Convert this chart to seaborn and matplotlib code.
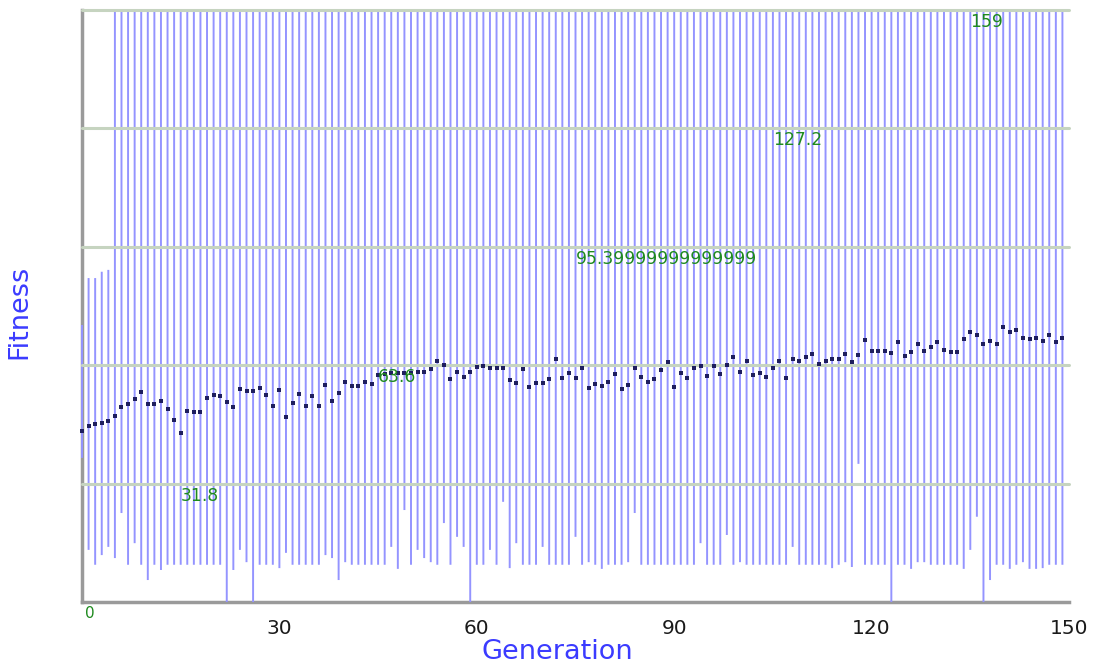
import numpy as np
import pandas as pd
import matplotlib
matplotlib.use("Agg")
import matplotlib.pyplot as plt
import matplotlib.transforms as mtransforms
import seaborn as sns

# Per-generation fitness statistics: population mean, minimum and maximum
generation = list(range(150))

mean_fitness = [
    45.8, 47.4, 47.7, 48.2, 48.7, 50.0, 52.5, 53.2, 54.4, 56.3,
    53.2, 53.2, 54.1, 51.8, 49.0, 45.3, 51.3, 51.0, 50.9, 54.8,
    55.6, 55.3, 53.8, 52.5, 57.2, 56.7, 56.7, 57.4, 55.6, 52.7,
    56.9, 49.6, 53.4, 55.8, 52.6, 55.2, 52.7, 58.2, 54.0, 56.1,
    59.0, 58.1, 58.1, 59.0, 58.5, 61.0, 61.2, 61.4, 61.4, 61.6,
    61.4, 61.7, 61.7, 62.6, 64.6, 63.7, 59.9, 61.9, 60.4, 61.7,
    63.1, 63.4, 62.9, 62.9, 62.8, 59.6, 58.8, 62.5, 57.8, 58.9,
    58.7, 59.9, 65.2, 60.1, 61.4, 60.1, 62.8, 57.4, 58.5, 58.0,
    59.0, 61.2, 57.1, 58.3, 62.8, 60.4, 59.0, 59.9, 62.2, 64.4,
    57.8, 61.4, 60.1, 62.8, 63.5, 60.6, 63.5, 61.2, 63.7, 65.7,
    61.8, 64.8, 61.0, 61.6, 60.3, 62.8, 64.8, 60.1, 65.2, 64.7,
    65.7, 66.6, 63.8, 64.8, 65.3, 65.2, 66.6, 64.5, 66.3, 70.4,
    67.4, 67.4, 67.4, 66.8, 69.7, 66.0, 67.1, 69.3, 67.5, 68.4,
    69.7, 67.7, 67.1, 67.1, 70.6, 72.6, 71.6, 69.4, 70.1, 69.2,
    73.9, 72.6, 73.1, 71.0, 70.6, 71.0, 70.1, 71.6, 69.9, 70.8,
]

min_fitness = [
    38.7, 14.0, 10.0, 12.6, 14.8, 11.8, 23.9, 10.0, 15.8, 10.0,
    5.9, 10.0, 8.6, 10.0, 10.0, 10.0, 10.0, 10.0, 10.0, 10.0,
    10.0, 10.0, 0.0, 8.6, 14.0, 10.7, 0.0, 10.0, 10.0, 10.0,
    9.1, 13.2, 10.0, 10.0, 10.0, 10.0, 10.0, 12.6, 11.8, 5.9,
    10.7, 10.0, 10.0, 10.0, 10.0, 10.0, 10.0, 14.8, 8.9, 24.7,
    10.0, 14.0, 11.8, 10.7, 10.0, 21.2, 10.0, 17.5, 14.8, 0.0,
    10.0, 10.0, 14.0, 10.0, 26.9, 9.1, 15.8, 10.0, 10.0, 10.0,
    14.8, 10.0, 10.0, 10.0, 10.0, 17.5, 10.0, 10.7, 10.0, 8.9,
    10.0, 10.0, 10.0, 10.7, 23.9, 10.0, 10.0, 10.0, 10.0, 10.0,
    10.0, 10.0, 10.0, 10.0, 15.8, 10.0, 10.0, 10.0, 18.0, 10.0,
    10.7, 10.0, 10.0, 10.0, 10.0, 10.0, 10.0, 10.0, 14.8, 10.0,
    10.0, 10.0, 10.0, 10.0, 9.1, 10.0, 10.7, 9.4, 37.1, 10.0,
    10.0, 10.0, 10.0, 0.0, 10.0, 10.0, 8.9, 10.7, 10.7, 10.0,
    10.0, 10.0, 10.0, 10.0, 8.9, 14.0, 22.9, 0.0, 5.9, 10.0,
    10.0, 8.9, 10.0, 10.7, 8.9, 8.9, 9.1, 10.0, 10.0, 10.0,
]

max_fitness = [74.4, 87.0, 87.0, 88.7, 89.2] + [159.0] * 145

y_gridlines = [31.8, 63.6, 95.39999999999999, 127.2, 159]
x_ticks = [0, 30, 60, 90, 120, 150]

df = pd.DataFrame({
    "Generation": generation,
    "Mean": mean_fitness,
    "Min": min_fitness,
    "Max": max_fitness,
})

sns.set_theme(style="white")
plt.rcParams["font.family"] = ["DejaVu Sans"]

fig = plt.figure(figsize=(11.01, 6.68), dpi=100)
ax = fig.add_axes([82 / 1101, 66 / 668, 987 / 1101, 592 / 668])

# min–max range of each generation
ranges = ax.vlines(df["Generation"], df["Min"], df["Max"], color="#9494ff",
                   linewidth=1.4, snap=False, zorder=6)
ranges.set_clip_on(False)

# population mean
sns.scatterplot(data=df, x="Generation", y="Mean", ax=ax, marker="s",
                s=8, color="#1f1f5e", linewidth=0, zorder=8, clip_on=False)

ax.set_xlim(0, 150)
ax.set_ylim(0, 159)

# horizontal grid, drawn over the range lines
ax.set_yticks(y_gridlines)
ax.set_yticklabels([])
ax.tick_params(axis="y", length=0)
for v in y_gridlines:
    ax.axhline(v, color="#c6d4c0", linewidth=2.2, zorder=7, clip_on=False)

# value labels of the grid, staggered along the generation axis
label_offset = mtransforms.ScaledTranslation(0, -3 / 100, fig.dpi_scale_trans)
for i, v in enumerate(y_gridlines):
    ax.text(15 + 30 * i, v, repr(v) if isinstance(v, float) else str(v),
            ha="left", va="top", color="#1e8a1e", fontsize=12.3,
            transform=ax.transData + label_offset, zorder=9)
ax.text(0, 0, "0", ha="left", va="top", color="#1e8a1e", fontsize=11,
        transform=ax.transData + mtransforms.ScaledTranslation(3 / 100, -4 / 100, fig.dpi_scale_trans))

ax.set_xticks(x_ticks)
ax.set_xticklabels([""] + [str(t) for t in x_ticks[1:]])
ax.tick_params(axis="x", direction="in", length=9, width=2, color="#8a8a8a",
               labelsize=14.5, labelcolor="#1a1a1a", pad=12)

for side in ("top", "right"):
    ax.spines[side].set_visible(False)
for side in ("left", "bottom"):
    ax.spines[side].set_color("#9a9a9a")
    ax.spines[side].set_linewidth(2.5)
    ax.spines[side].set_zorder(5)

ax.set_xlabel("Generation", fontsize=19.5, color="#3b3bff")
ax.xaxis.set_label_coords(0.482, -0.062)
ax.xaxis.label.set_va("top")
ax.set_ylabel("Fitness", fontsize=19.5, color="#3b3bff")
ax.yaxis.set_label_coords(-0.05, 0.49)

fig.savefig("out.png", dpi=100)
